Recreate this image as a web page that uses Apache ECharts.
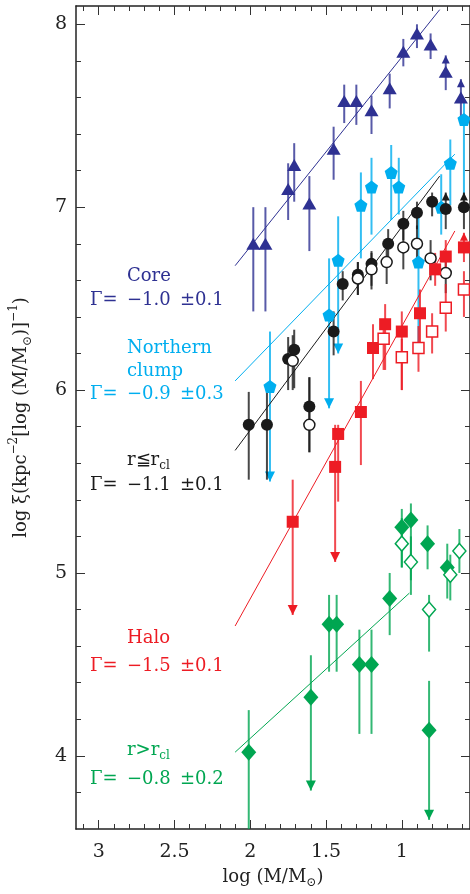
<!DOCTYPE html>
<html>
<head>
    <meta charset="utf-8">
    <title>log xi vs log M</title>
    <script src="https://cdn.jsdelivr.net/npm/echarts@6.0.0/dist/echarts.min.js"></script>
    <style>
        html, body { margin: 0; padding: 0; background: #fff; }
    </style>
</head>
<body>
<div id="main" style="width: 470px;height:894px;"></div>
<script>
    // rows: [log M, log xi, lower end of bar, upper end of bar, limit (1 = upper limit, -1 = lower limit)]
    var coreRows = [
        [1.98, 6.80, 6.43, 7.00, 0], [1.90, 6.80, 6.43, 7.00, 0], [1.75, 7.10, 6.93, 7.24, 0],
        [1.71, 7.23, 7.03, 7.35, 0], [1.61, 7.02, 6.76, 7.17, 0], [1.45, 7.32, 7.15, 7.44, 0],
        [1.38, 7.58, 7.46, 7.67, 0], [1.30, 7.58, 7.45, 7.67, 0], [1.20, 7.53, 7.40, 7.61, 0],
        [1.08, 7.65, 7.54, 7.73, 0], [0.99, 7.85, 7.77, 7.92, 0], [0.90, 7.95, 7.87, 8.00, 0],
        [0.81, 7.89, 7.81, 7.95, 0], [0.71, 7.74, 7.64, 7.83, -1], [0.61, 7.60, 7.49, 7.70, -1]
    ];
    var clumpRows = [
        [1.87, 6.02, 5.50, 6.32, 1], [1.48, 6.41, 5.90, 6.72, 1], [1.42, 6.71, 6.20, 6.95, 1],
        [1.27, 7.01, 6.72, 7.19, 0], [1.20, 7.11, 6.85, 7.27, 0], [1.07, 7.19, 6.93, 7.34, 0],
        [1.02, 7.11, 6.96, 7.27, 0], [0.89, 6.70, 6.20, 6.95, 1], [0.74, 7.00, 6.85, 7.18, 0],
        [0.68, 7.24, 7.01, 7.37, 0], [0.59, 7.48, 7.04, 7.59, 0]
    ];
    var innerRows = [
        [2.01, 5.81, 5.51, 5.99, 0], [1.89, 5.81, 5.51, 5.99, 0], [1.75, 6.17, 6.00, 6.29, 0],
        [1.71, 6.22, 6.01, 6.33, 0], [1.61, 5.91, 5.66, 6.07, 0], [1.45, 6.32, 6.19, 6.43, 0],
        [1.39, 6.58, 6.49, 6.65, 0], [1.29, 6.63, 6.52, 6.70, 0], [1.20, 6.69, 6.57, 6.76, 0],
        [1.09, 6.80, 6.70, 6.88, 0], [0.99, 6.91, 6.82, 6.98, 0], [0.90, 6.97, 6.88, 7.03, 0],
        [0.80, 7.03, 6.95, 7.08, 0], [0.71, 6.99, 6.88, 7.08, -1], [0.59, 7.00, 6.88, 7.08, -1]
    ];
    var innerOpenRows = [
        [1.72, 6.16, 6.00, 6.30, 0], [1.61, 5.81, 5.66, 6.07, 0], [1.29, 6.61, 6.52, 6.70, 0],
        [1.20, 6.66, 6.55, 6.75, 0], [1.10, 6.70, 6.58, 6.80, 0], [0.99, 6.78, 6.66, 6.88, 0],
        [0.90, 6.80, 6.70, 6.90, 0], [0.81, 6.72, 6.60, 6.82, 0], [0.71, 6.64, 6.53, 6.74, 0]
    ];
    var haloRows = [
        [1.72, 5.28, 4.77, 5.51, 1], [1.44, 5.58, 5.06, 5.81, 1], [1.42, 5.76, 5.39, 5.81, 0],
        [1.27, 5.88, 5.59, 6.05, 0], [1.19, 6.23, 6.06, 6.36, 0], [1.11, 6.36, 6.11, 6.47, 0],
        [1.00, 6.32, 6.00, 6.43, 0], [0.88, 6.42, 6.20, 6.55, 0], [0.78, 6.66, 6.57, 6.75, 0],
        [0.71, 6.73, 6.62, 6.82, 0], [0.59, 6.78, 6.70, 6.86, -1]
    ];
    var haloOpenRows = [
        [1.12, 6.28, 6.11, 6.38, 0], [1.00, 6.18, 6.00, 6.28, 0], [0.89, 6.23, 6.10, 6.35, 0],
        [0.80, 6.32, 6.20, 6.42, 0], [0.71, 6.45, 6.32, 6.58, 0], [0.59, 6.55, 6.40, 6.65, 0]
    ];
    var outerRows = [
        [2.01, 4.02, 3.50, 4.25, 0], [1.60, 4.32, 3.81, 4.55, 1], [1.48, 4.72, 4.46, 4.88, 0],
        [1.43, 4.72, 4.46, 4.88, 0], [1.28, 4.50, 4.12, 4.69, 0], [1.20, 4.50, 4.12, 4.69, 0],
        [1.08, 4.86, 4.66, 5.00, 0], [1.00, 5.25, 5.03, 5.35, 0], [0.94, 5.29, 4.96, 5.38, 0],
        [0.83, 5.16, 5.02, 5.26, 0], [0.70, 5.03, 4.86, 5.16, 0], [0.82, 4.14, 3.65, 4.41, 1]
    ];
    var outerOpenRows = [
        [1.00, 5.16, 5.03, 5.30, 0], [0.94, 5.06, 4.88, 5.20, 0], [0.82, 4.80, 4.57, 4.88, 0],
        [0.68, 4.99, 4.85, 5.10, 0], [0.62, 5.12, 5.00, 5.24, 0]
    ];

    // power-law fits, end points
    var coreFit = [[2.10, 6.68], [0.75, 8.08]];
    var clumpFit = [[2.10, 6.05], [0.65, 7.29]];
    var innerFit = [[2.10, 5.67], [0.75, 7.17]];
    var haloFit = [[2.10, 4.71], [0.65, 6.87]];
    var outerFit = [[2.10, 4.02], [0.95, 4.89]];

    var xMajor = [1, 1.5, 2, 2.5, 3];
    var yMajor = [4, 5, 6, 7, 8];

    var BLUE = '#2e3192', CYAN = '#00aeef', BLACK = '#1a1a1a', RED = '#ed1c24', GREEN = '#00a651';
    var FONT = 'DejaVu Serif';
    var PENTAGON = 'path://M0,-10 L9.5,-3.1 L5.9,8.1 L-5.9,8.1 L-9.5,-3.1 Z';

    var xMinor = [], yMinor = [];
    for (var i = 6; i <= 31; i++) { if (i % 5) xMinor.push(i / 10); }
    for (var j = 19; j <= 40; j++) { if (j % 5) yMinor.push(j / 5); }

    var myChart = echarts.init(document.getElementById('main'));

    function xAx(pos, ticks, len, withLine, withLabel) {
        return {
            type: 'value', position: pos, inverse: true, min: 0.55, max: 3.15,
            axisLine: {show: withLine, onZero: false, lineStyle: {color: '#222', width: 1.5}},
            axisTick: {show: true, inside: true, length: len, customValues: ticks, lineStyle: {color: '#333', width: 1}},
            axisLabel: {show: withLabel, customValues: ticks, margin: 14, color: '#222', fontFamily: FONT, fontSize: 19},
            splitLine: {show: false}
        };
    }
    function yAx(pos, ticks, len, withLine, withLabel) {
        return {
            type: 'value', position: pos, min: 3.6, max: 8.1,
            axisLine: {show: withLine, onZero: false, lineStyle: {color: '#222', width: 1.5}},
            axisTick: {show: true, inside: true, length: len, customValues: ticks, lineStyle: {color: '#333', width: 1}},
            axisLabel: {show: withLabel, customValues: ticks, margin: 9, color: '#222', fontFamily: FONT, fontSize: 19},
            splitLine: {show: false}
        };
    }

    var xAxes = [xAx('bottom', xMajor, 9, true, true), xAx('bottom', xMinor, 5, false, false),
                 xAx('top', xMajor, 9, true, false), xAx('top', xMinor, 5, false, false)];
    xAxes[0].name = '{t|log (M/M}{s|⊙}{t|)}';
    xAxes[0].nameLocation = 'middle';
    xAxes[0].nameGap = 36;
    xAxes[0].nameTextStyle = {
        rich: {
            t: {fontFamily: FONT, fontSize: 18, color: '#222', lineHeight: 24},
            s: {fontFamily: FONT, fontSize: 12, color: '#222', verticalAlign: 'bottom', lineHeight: 24}
        }
    };
    var yAxes = [yAx('left', yMajor, 9, true, true), yAx('left', yMinor, 5, false, false),
                 yAx('right', yMajor, 9, true, false), yAx('right', yMinor, 5, false, false)];
    yAxes[0].name = '{t|log ξ(kpc}{p|−2}{t|[log (M/M}{s|⊙}{t|)]}{p|−1}{t|)}';
    yAxes[0].nameLocation = 'middle';
    yAxes[0].nameGap = 42;
    yAxes[0].nameTextStyle = {
        rich: {
            t: {fontFamily: FONT, fontSize: 18, color: '#222', lineHeight: 26},
            p: {fontFamily: FONT, fontSize: 12, color: '#222', verticalAlign: 'top', lineHeight: 26},
            s: {fontFamily: FONT, fontSize: 12, color: '#222', verticalAlign: 'bottom', lineHeight: 26}
        }
    };

    function bars(rows, color) {
        return {
            type: 'custom', data: rows, z: 1, clip: true, silent: true,
            encode: {x: 0, y: [2, 3]},
            renderItem: function (params, api) {
                var x = api.value(0), lim = api.value(4);
                var a = api.coord([x, api.value(2)]);
                var b = api.coord([x, api.value(3)]);
                var kids = [{
                    type: 'line',
                    shape: {x1: a[0], y1: a[1], x2: b[0], y2: b[1]},
                    style: {stroke: color, lineWidth: 2, opacity: 0.8}
                }];
                if (lim === 1) {
                    kids.push({type: 'polygon', shape: {points: [[a[0] - 5, a[1] - 10], [a[0] + 5, a[1] - 10], [a[0], a[1]]]},
                        style: {fill: color}});
                } else if (lim === -1) {
                    kids.push({type: 'polygon', shape: {points: [[b[0] - 4, b[1] + 8], [b[0] + 4, b[1] + 8], [b[0], b[1]]]},
                        style: {fill: color}});
                }
                return {type: 'group', children: kids};
            }
        };
    }
    function marks(rows, color, symbol, size, open) {
        return {
            type: 'scatter', data: rows, z: 3, symbol: symbol, symbolSize: size,
            encode: {x: 0, y: 1},
            itemStyle: open ? {color: '#fff', borderColor: color, borderWidth: 1.5, opacity: 1}
                            : {color: color, opacity: 1}
        };
    }
    function fit(pts, color) {
        return {type: 'line', data: pts, z: 2, symbol: 'none', lineStyle: {color: color, width: 1}, silent: true};
    }

    function label(x, y, text, color) {
        return {type: 'text', x: x, y: y, z: 10,
            style: {text: text, fill: color, fontFamily: FONT, fontSize: 18, verticalAlign: 'middle'}};
    }
    function subLabel(x, y, text, sub, color) {
        return {type: 'text', x: x, y: y, z: 10,
            style: {text: '{a|' + text + '}{b|' + sub + '}', verticalAlign: 'middle',
                rich: {a: {fill: color, fontFamily: FONT, fontSize: 18, lineHeight: 24},
                       b: {fill: color, fontFamily: FONT, fontSize: 12, lineHeight: 24, verticalAlign: 'bottom'}}}};
    }
    function gammaLine(y, value, err, color) {
        return [label(90, y, 'Γ=', color), label(127, y, value, color), label(180, y, err, color)];
    }

    var texts = [].concat(
        [label(127, 276, 'Core', BLUE)], gammaLine(300, '−1.0', '±0.1', BLUE),
        [label(127, 348, 'Northern', CYAN), label(127, 371, 'clump', CYAN)], gammaLine(394, '−0.9', '±0.3', CYAN),
        [subLabel(127, 460, 'r≦r', 'cl', BLACK)], gammaLine(485, '−1.1', '±0.1', BLACK),
        [label(127, 638, 'Halo', RED)], gammaLine(666, '−1.5', '±0.1', RED),
        [subLabel(127, 750, 'r>r', 'cl', GREEN)], gammaLine(779, '−0.8', '±0.2', GREEN)
    );

    myChart.setOption({
        animation: false,
        grid: {left: 72, right: 0, top: 6, bottom: 64},
        xAxis: xAxes,
        yAxis: yAxes,
        graphic: texts,
        series: [
            fit(coreFit, BLUE), fit(clumpFit, CYAN), fit(innerFit, BLACK), fit(haloFit, RED), fit(outerFit, GREEN),
            bars(coreRows, BLUE), bars(clumpRows, CYAN), bars(innerRows, BLACK), bars(innerOpenRows, BLACK),
            bars(haloRows, RED), bars(haloOpenRows, RED), bars(outerRows, GREEN), bars(outerOpenRows, GREEN),
            marks(coreRows, BLUE, 'triangle', [14, 12], false),
            marks(clumpRows, CYAN, PENTAGON, 13, false),
            marks(innerRows, BLACK, 'circle', 12, false),
            marks(innerOpenRows, BLACK, 'circle', 11, true),
            marks(haloRows, RED, 'rect', 12, false),
            marks(haloOpenRows, RED, 'rect', 11, true),
            marks(outerRows, GREEN, 'diamond', [15, 17], false),
            marks(outerOpenRows, GREEN, 'diamond', [13, 15], true)
        ]
    });
</script>
</body>
</html>
